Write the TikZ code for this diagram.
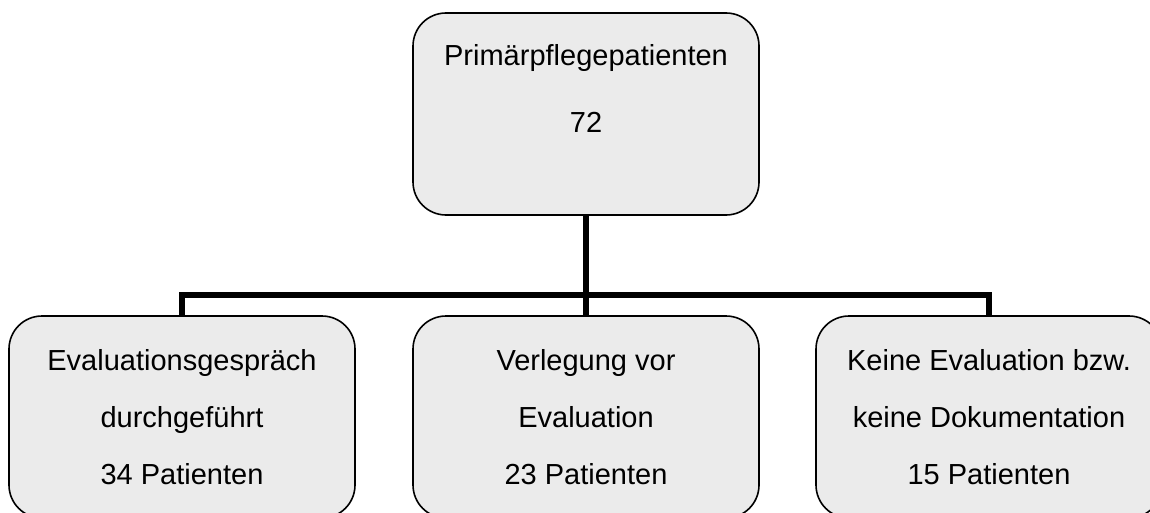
\documentclass[tikz,border=0pt]{standalone}
\usepackage{fontspec}
\setmainfont{Liberation Sans}
\usepackage{tikz}
\usetikzlibrary{positioning}
\colorlet{boxfill}{black!8!white}
\colorlet{boxline}{black}
\colorlet{conncol}{black}
\tikzset{every node/.style={font=\fontsize{29}{34}\selectfont}}
\tikzset{
  groupbox/.style={draw=boxline, fill=boxfill, line width=1.6pt, rounded corners=33pt,
    minimum width=346pt, minimum height=202pt, inner sep=0pt},
  linetext/.style={anchor=base, inner sep=0pt},
  conn/.style={draw=conncol, line width=6pt}
}

\begin{document}
\begin{tikzpicture}[x=1pt, y=-1pt]

  % Page frame (crops the lower boxes like the original).
  \clip (0,0) rectangle (1150,513);

  % Connectors (drawn first, boxes sit on top).
  \coordinate (split) at (586,295);

  % Boxes.
  \node[groupbox] (total) at (586,114) {};
  \node[groupbox] (done)  at (182,417) {};
  \node[groupbox] (moved) at (586,417) {};
  \node[groupbox] (none)  at (989,417) {};

  \draw[conn] (total.south) -- (split);
  \draw[conn] (split) -| (done.north);
  \draw[conn] (split) -| (none.north);
  \draw[conn] (split) -- (moved.north);

  % Top box text.
  \node[linetext] (totalA) at ([yshift=-53pt]total.north) {Primärpflegepatienten};
  \node[linetext] (totalB) at ([yshift=-120pt]total.north) {72};

  % Lower box texts.
  \node[linetext] (doneA) at ([yshift=-55pt]done.north) {Evaluationsgespräch};
  \node[linetext] (doneB) at ([yshift=-112pt]done.north) {durchgeführt};
  \node[linetext] (doneC) at ([yshift=-169pt]done.north) {34 Patienten};

  \node[linetext] (movedA) at ([yshift=-55pt]moved.north) {Verlegung vor};
  \node[linetext] (movedB) at ([yshift=-112pt]moved.north) {Evaluation};
  \node[linetext] (movedC) at ([yshift=-169pt]moved.north) {23 Patienten};

  \node[linetext] (noneA) at ([yshift=-55pt]none.north) {Keine Evaluation bzw.};
  \node[linetext] (noneB) at ([yshift=-112pt]none.north) {keine Dokumentation};
  \node[linetext] (noneC) at ([yshift=-169pt]none.north) {15 Patienten};

\end{tikzpicture}
\end{document}
